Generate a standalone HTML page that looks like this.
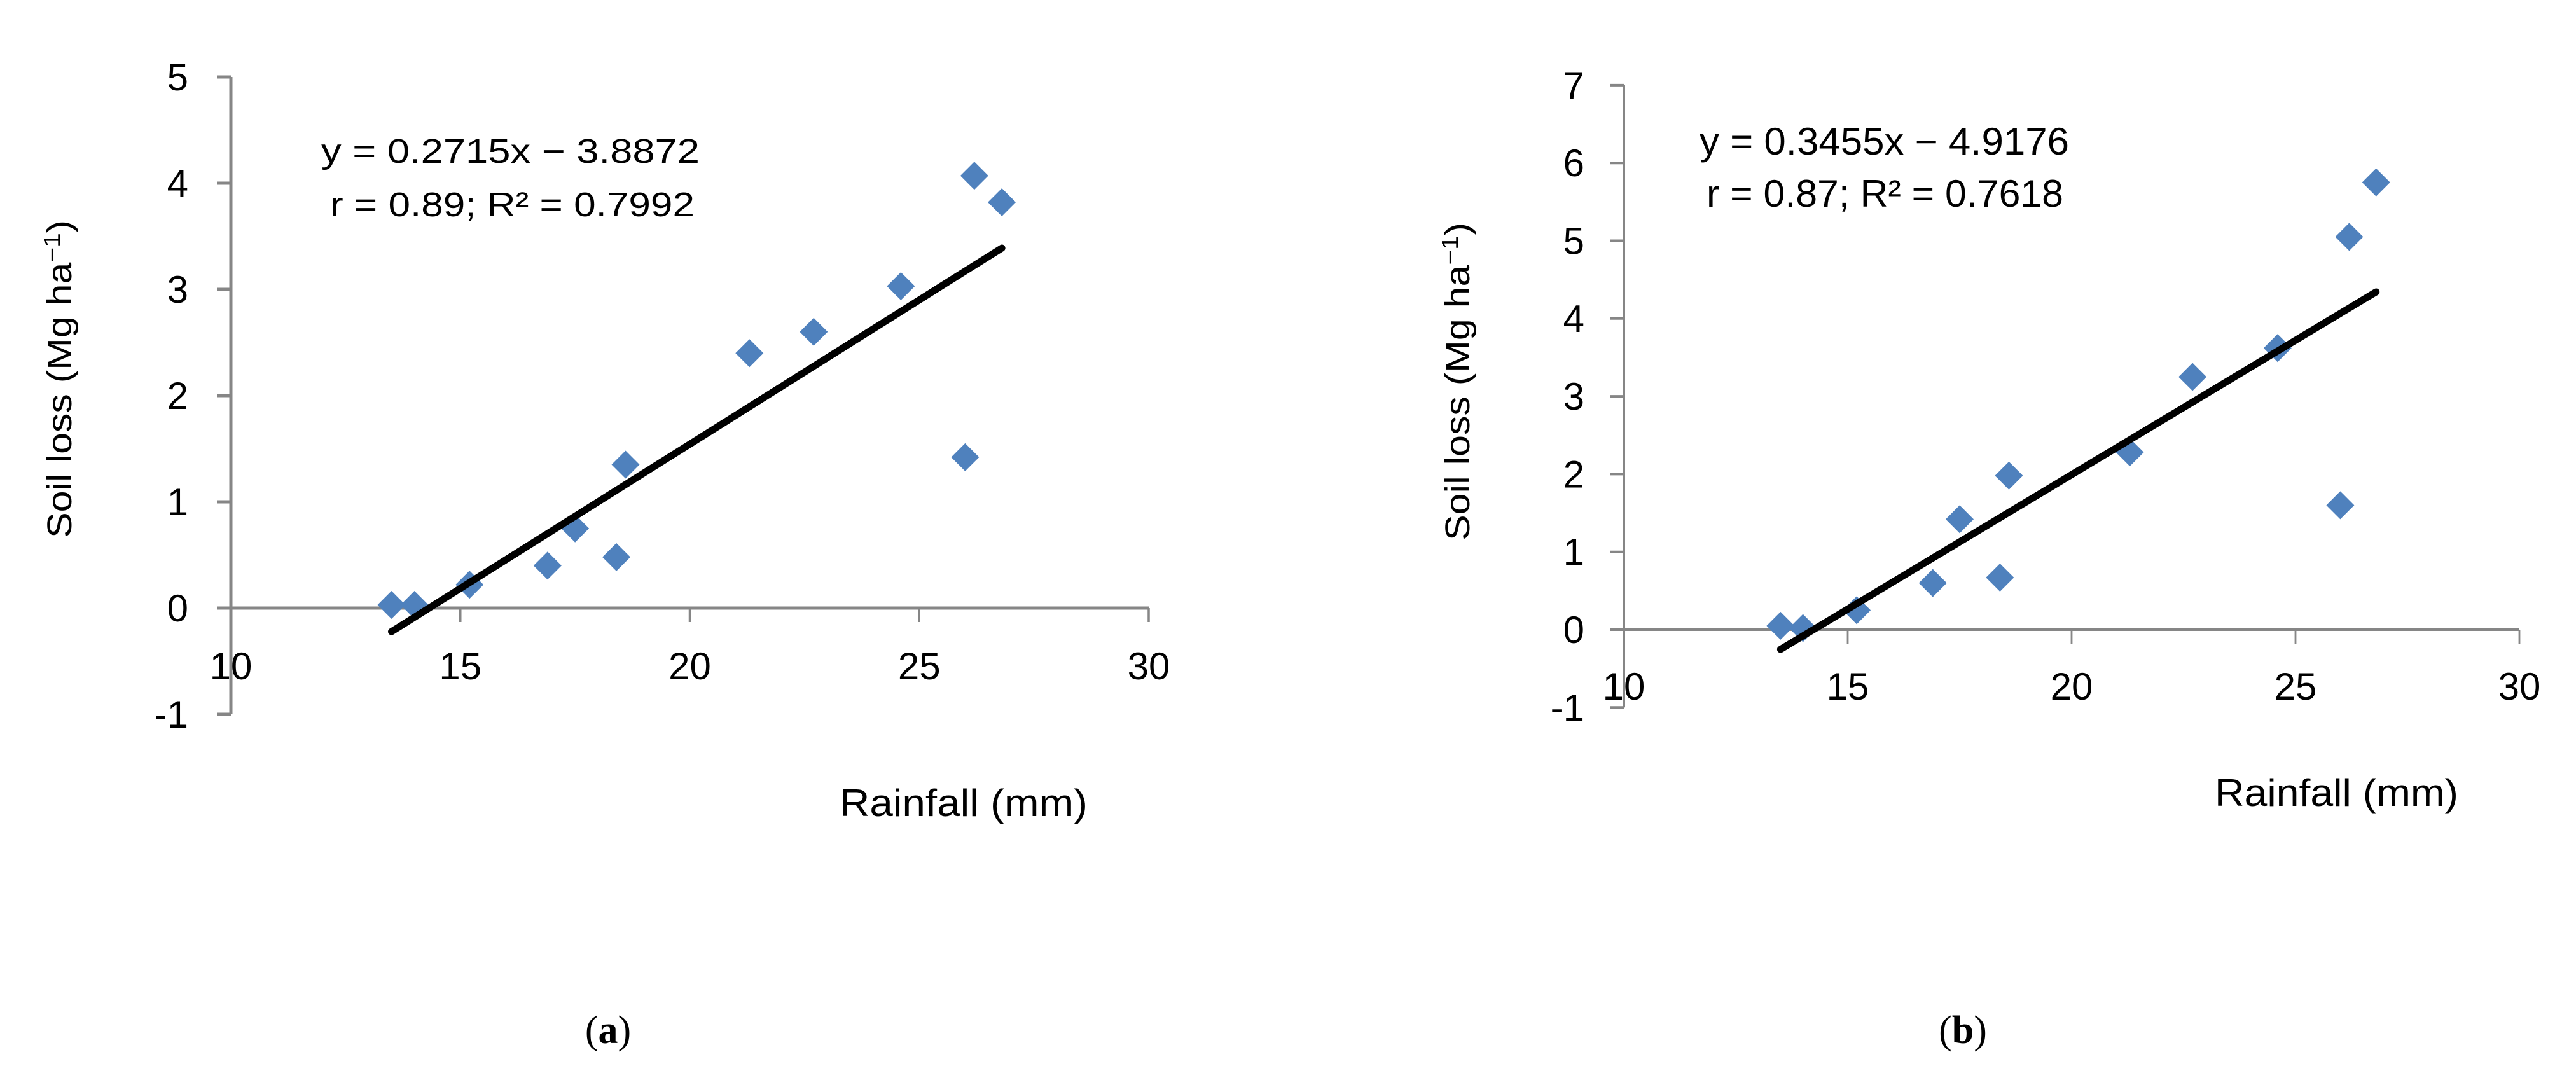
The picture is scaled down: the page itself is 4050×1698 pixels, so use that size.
<!DOCTYPE html>
<html><head><meta charset="utf-8"><style>
html,body{margin:0;padding:0;background:#fff;}
svg{display:block;}
text{font-family:"Liberation Sans",sans-serif;fill:#000;}
</style></head><body>
<svg id="fig" width="4050" height="1698" viewBox="0 0 4050 1698" xmlns="http://www.w3.org/2000/svg">
<rect width="4050" height="1698" fill="#fff"/>
<g id="chartA"></g>
<g id="chartB"></g>
<text x="956" y="1640" font-size="62" text-anchor="middle" style="font-family:'Liberation Serif',serif">(<tspan font-weight="bold">a</tspan>)</text>
<text x="3086" y="1640" font-size="62" text-anchor="middle" style="font-family:'Liberation Serif',serif">(<tspan font-weight="bold">b</tspan>)</text>
</svg>
<script>
const rainfall = [13.5, 14.0, 15.2, 16.9, 17.5, 18.4, 18.6, 21.3, 22.7, 24.6, 26.0, 26.2, 26.8];
const soilLossA = [0.03, 0.03, 0.22, 0.40, 0.75, 0.48, 1.35, 2.40, 2.60, 3.03, 1.42, 4.07, 3.82];
const soilLossB = [0.05, 0.02, 0.25, 0.60, 1.42, 0.67, 1.98, 2.28, 3.25, 3.62, 1.60, 5.05, 5.75];
const xTicks = [10, 15, 20, 25, 30];
const yTicksA = [-1, 0, 1, 2, 3, 4, 5];
const yTicksB = [-1, 0, 1, 2, 3, 4, 5, 6, 7];
const trendA = [0.2715, -3.8872];
const trendB = [0.3455, -4.9176];
const eqA = ["y = 0.2715x − 3.8872", "r = 0.89; R² = 0.7992"];
const eqB = ["y = 0.3455x − 4.9176", "r = 0.87; R² = 0.7618"];

const NS = "http://www.w3.org/2000/svg";
function mk(parent, tag, attrs, txt){
  const e = document.createElementNS(NS, tag);
  for (const k in attrs) e.setAttribute(k, attrs[k]);
  if (txt !== undefined) e.textContent = txt;
  parent.appendChild(e);
  return e;
}
function draw(g, cfg){
  const sx = v => cfg.x0 + (v - 10) * cfg.px;
  const sy = v => cfg.y0 - v * cfg.py;
  const ymin = cfg.yTicks[0], ymax = cfg.yTicks[cfg.yTicks.length-1];
  const ya = mk(g, 'line', {x1:cfg.x0, y1:sy(ymax), x2:cfg.x0, y2:sy(ymin), stroke:'#868686', 'stroke-width':cfg.aw});
  
  
  cfg.yTicks.forEach(v => {
    const t = mk(g, 'line', {x1:cfg.x0-22, y1:sy(v), x2:cfg.x0, y2:sy(v), stroke:'#868686', 'stroke-width':cfg.aw});
    
    
    const l = mk(g, 'text', {x:cfg.ylx, y:sy(v)+21, 'font-size':60, 'text-anchor':'end'}, String(v));
    
    
  });
  const xa = mk(g, 'line', {x1:cfg.x0-22, y1:cfg.y0, x2:sx(30), y2:cfg.y0, stroke:'#868686', 'stroke-width':cfg.aw});
  
  
  xTicks.forEach(v => {
    const t = mk(g, 'line', {x1:sx(v), y1:cfg.y0, x2:sx(v), y2:cfg.y0+22, stroke:'#868686', 'stroke-width':cfg.aw*0.7});
    
    
    const l = mk(g, 'text', {x:sx(v), y:cfg.xly, 'font-size':60, 'text-anchor':'middle'}, String(v));
    
    
  });
  rainfall.forEach((x, i) => {
    const cx = sx(x), cy = sy(cfg.ys[i]), r = 22;
    const p = mk(g, 'polygon', {points:`${cx},${cy-r} ${cx+r},${cy} ${cx},${cy+r} ${cx-r},${cy}`, fill:'#4F81BD'});
    
    
  });
  const xa0 = rainfall[0], xa1 = rainfall[rainfall.length-1];
  const tl = mk(g, 'line', {x1:sx(xa0), y1:sy(cfg.tr[0]*xa0+cfg.tr[1]), x2:sx(xa1), y2:sy(cfg.tr[0]*xa1+cfg.tr[1]), stroke:'#000', 'stroke-width':11, 'stroke-linecap':'round'});
  
  
  const e1 = mk(g, 'text', {x:cfg.eq[0], y:cfg.eq[1], 'font-size':cfg.efs, textLength:cfg.eq[2], lengthAdjust:'spacingAndGlyphs'}, cfg.eqt[0]);
  
  
  const e2 = mk(g, 'text', {x:cfg.eq[3], y:cfg.eq[4], 'font-size':cfg.efs, textLength:cfg.eq[5], lengthAdjust:'spacingAndGlyphs'}, cfg.eqt[1]);
  
  
  const xt = mk(g, 'text', {x:cfg.xt[0], y:cfg.xt[1], 'font-size':60, textLength:cfg.xt[2], lengthAdjust:'spacingAndGlyphs'}, 'Rainfall  (mm)');
  
  
  const yt = mk(g, 'text', {x:0, y:0, 'font-size':54, 'text-anchor':'middle', textLength:500, lengthAdjust:'spacingAndGlyphs', transform:`translate(${cfg.yt[0]},${cfg.yt[1]}) rotate(-90)`});
  
  
  yt.appendChild(document.createTextNode('Soil loss (Mg ha'));
  mk(yt, 'tspan', {dy:-18, 'font-size':36}, '−1');
  mk(yt, 'tspan', {dy:18}, ')');
}
draw(document.getElementById('chartA'), {
  x0:363, px:72.15, y0:956, py:167, aw:5, yTicks:yTicksA, ys:soilLossA, tr:trendA,
  ylx:296, xly:1068, eq:[505,256,595,519,340,573], efs:54, eqt:eqA,
  xt:[1320,1283,390], yt:[112,596]
});
draw(document.getElementById('chartB'), {
  x0:2553, px:70.4, y0:990, py:122.3, aw:4, yTicks:yTicksB, ys:soilLossB, tr:trendB,
  ylx:2491, xly:1100, eq:[2672,243,581,2683,325,561], efs:60, eqt:eqB,
  xt:[3482,1267,383], yt:[2310,600]
});
</script>
</body></html>
